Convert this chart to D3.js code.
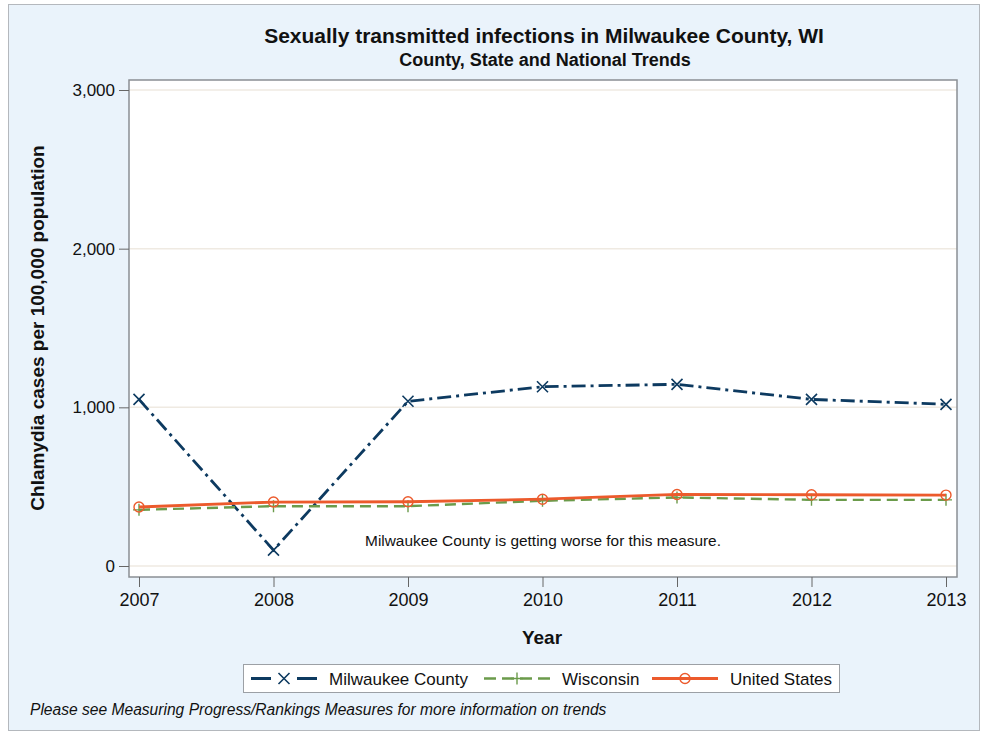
<!DOCTYPE html>
<html>
<head>
<meta charset="utf-8">
<script src="https://cdn.jsdelivr.net/npm/d3@7"></script>
<style>
body { margin: 0; background: #fff; }
text { font-family: "Liberation Sans", Arial, sans-serif; }
</style>
</head>
<body>
<script>
let years = [2007, 2008, 2009, 2010, 2011, 2012, 2013];
let milwaukee = [1050, 100, 1038, 1130, 1145, 1050, 1019];
let wisconsin = [354, 377, 377, 411, 432, 417, 417];
let unitedStates = [372, 403, 405, 421, 451, 449, 447];
let yTicks = [0, 1000, 2000, 3000];

let svg = d3.select("body").append("svg").attr("width", 983).attr("height", 734);

// outer frame
svg.append("rect").attr("x", 8.5).attr("y", 4.5).attr("width", 971).attr("height", 726)
    .attr("fill", "#eaf3fb").attr("stroke", "#b4b8bd");

let plotLeft = 129, plotRight = 957, plotTop = 80, plotBottom = 577;
let x = d3.scalePoint().domain(years).range([139, 946]);
let y = d3.scaleLinear().domain([0, 3000]).range([566, 90]);

svg.append("rect").attr("x", plotLeft).attr("y", plotTop).attr("width", plotRight - plotLeft).attr("height", plotBottom - plotTop)
    .attr("fill", "#fff");

// grid
svg.selectAll("line.grid").data(yTicks).enter().append("line").attr("class", "grid")
    .attr("x1", plotLeft).attr("x2", plotRight)
    .attr("y1", d => y(d)).attr("y2", d => y(d))
    .attr("stroke", "#efeae2").attr("stroke-width", 1.5);

svg.append("rect").attr("x", plotLeft).attr("y", plotTop).attr("width", plotRight - plotLeft).attr("height", plotBottom - plotTop)
    .attr("fill", "none").attr("stroke", "#8a8f94").attr("stroke-width", 1.5);

// axes
let yAxis = d3.axisLeft(y).tickValues(yTicks).tickSize(10).tickPadding(4).tickFormat(d3.format(","));
let gy = svg.append("g").attr("transform", "translate(" + plotLeft + ",0)").call(yAxis);
gy.select(".domain").remove();
gy.selectAll(".tick line").attr("stroke", "#666");
gy.selectAll(".tick text").attr("font-size", 17).attr("fill", "#111")
    .attr("font-family", "Liberation Sans, Arial, sans-serif");

let xAxis = d3.axisBottom(x).tickSize(10).tickPadding(6).tickFormat(d3.format("d"));
let gx = svg.append("g").attr("transform", "translate(0," + plotBottom + ")").call(xAxis);
gx.select(".domain").remove();
gx.selectAll(".tick line").attr("stroke", "#666");
gx.selectAll(".tick text").attr("font-size", 18).attr("fill", "#111")
    .attr("font-family", "Liberation Sans, Arial, sans-serif");

// titles
svg.append("text").attr("x", 544).attr("y", 43).attr("text-anchor", "middle")
    .attr("font-size", 21).attr("font-weight", "bold").attr("fill", "#111")
    .text("Sexually transmitted infections in Milwaukee County, WI");
svg.append("text").attr("x", 545).attr("y", 66).attr("text-anchor", "middle")
    .attr("font-size", 18).attr("font-weight", "bold").attr("fill", "#111")
    .text("County, State and National Trends");
svg.append("text").attr("x", 542).attr("y", 644).attr("text-anchor", "middle")
    .attr("font-size", 19).attr("font-weight", "bold").attr("fill", "#111").text("Year");
svg.append("text").attr("transform", "translate(44,328) rotate(-90)").attr("text-anchor", "middle")
    .attr("font-size", 19).attr("font-weight", "bold").attr("fill", "#111")
    .text("Chlamydia cases per 100,000 population");
svg.append("text").attr("x", 543).attr("y", 546).attr("text-anchor", "middle")
    .attr("font-size", 15.4).attr("fill", "#111").text("Milwaukee County is getting worse for this measure.");
svg.append("text").attr("x", 30).attr("y", 715).attr("font-size", 15.6).attr("font-style", "italic")
    .attr("fill", "#111").text("Please see Measuring Progress/Rankings Measures for more information on trends");

let series = [
    { name: "Milwaukee County", values: milwaukee, color: "#0d3a60", dash: "14,5,3,5", width: 2.8, marker: "x" },
    { name: "Wisconsin", values: wisconsin, color: "#6b9b4b", dash: "11,6", width: 2.4, marker: "plus" },
    { name: "United States", values: unitedStates, color: "#ec5a2c", dash: null, width: 2.8, marker: "circle" }
];

let line = d3.line().x((d, i) => x(years[i])).y(d => y(d));

function drawMarker(g, type, cx, cy, color) {
    if (type === "x") {
        let s = 5.5;
        g.append("path").attr("d", `M${cx - s},${cy - s}L${cx + s},${cy + s}M${cx - s},${cy + s}L${cx + s},${cy - s}`)
            .attr("stroke", color).attr("stroke-width", 1.6).attr("fill", "none");
    } else if (type === "plus") {
        let s = 6;
        g.append("path").attr("d", `M${cx - s},${cy}L${cx + s},${cy}M${cx},${cy - s}L${cx},${cy + s}`)
            .attr("stroke", color).attr("stroke-width", 1.4).attr("fill", "none");
    } else {
        g.append("circle").attr("cx", cx).attr("cy", cy).attr("r", 5)
            .attr("stroke", color).attr("stroke-width", 1.4).attr("fill", "none");
    }
}

series.forEach(s => {
    let g = svg.append("g");
    g.append("path").datum(s.values).attr("d", line).attr("fill", "none")
        .attr("stroke", s.color).attr("stroke-width", s.width)
        .attr("stroke-dasharray", s.dash);
    s.values.forEach((v, i) => drawMarker(g, s.marker, x(years[i]), y(v), s.color));
});

// legend
svg.append("rect").attr("x", 243.5).attr("y", 664.5).attr("width", 596).attr("height", 28)
    .attr("fill", "#fff").attr("stroke", "#9ca0a5");
let legendX = [251, 484, 652];
series.forEach((s, i) => {
    let lx = legendX[i], ly = 678.5;
    let g = svg.append("g");
    g.append("line").attr("x1", lx).attr("x2", lx + 66).attr("y1", ly).attr("y2", ly)
        .attr("stroke", s.color).attr("stroke-width", s.width)
        .attr("stroke-dasharray", i === 0 ? "20,26,20" : (s.dash ? "12,6" : null));
    drawMarker(g, s.marker, lx + 33, ly, s.color);
    g.append("text").attr("x", lx + 78).attr("y", ly + 6).attr("font-size", 17).attr("fill", "#111").text(s.name);
});
</script>
</body>
</html>
